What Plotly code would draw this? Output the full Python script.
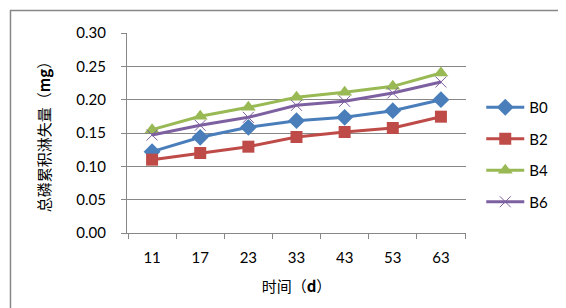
import plotly.graph_objects as go

days = ["11", "17", "23", "33", "43", "53", "63"]
b0 = [0.122, 0.1435, 0.1585, 0.1685, 0.1735, 0.1835, 0.200]
b2 = [0.110, 0.120, 0.1295, 0.144, 0.1515, 0.1575, 0.1745]
b4 = [0.155, 0.175, 0.1885, 0.2035, 0.211, 0.220, 0.240]
b6 = [0.147, 0.1615, 0.1735, 0.1915, 0.1975, 0.210, 0.2265]
y_ticks = [0.0, 0.05, 0.10, 0.15, 0.20, 0.25, 0.30]

series = [
    ("B0", b0, "#4A7EBB", "diamond", 13),
    ("B2", b2, "#BE4B48", "square", 12),
    ("B4", b4, "#98B954", "triangle-up", 13),
    ("B6", b6, "#7D60A0", "x-thin", 11),
]

fig = go.Figure()
for name, vals, color, sym, size in series:
    marker = dict(symbol=sym, size=size, color=color)
    if sym == "x-thin":
        marker["line"] = dict(color=color, width=1)
    fig.add_trace(go.Scatter(
        x=days, y=vals, name=name, mode="lines+markers",
        line=dict(color=color, width=3), marker=marker,
        legendgroup=name,
    ))

font_num = "Lato, 'Open Sans', sans-serif"
cjk = "'Noto Sans CJK SC', sans-serif"
fig.update_layout(
    width=566, height=308,
    margin=dict(l=119, r=108, t=25, b=83),
    paper_bgcolor="white", plot_bgcolor="white",
    font=dict(family=font_num, size=15, color="black"),
    showlegend=True,
    legend=dict(x=1.045, y=0.71, xanchor="left", yanchor="top",
                tracegroupgap=9, font=dict(size=15), itemwidth=38,
                bgcolor="rgba(0,0,0,0)"),
    xaxis=dict(
        type="category", showgrid=False, showline=True, linecolor="#878787",
        ticks="outside", tickson="boundaries", ticklen=5, tickcolor="#878787",
        ticklabelstandoff=11,
        title=dict(text="时间（<b>d</b>）", standoff=16,
                   font=dict(family=cjk, size=15)),
    ),
    yaxis=dict(
        range=[0, 0.30], tickvals=y_ticks, tickformat=".2f",
        showgrid=True, gridcolor="#878787", gridwidth=1,
        showline=True, linecolor="#878787", zeroline=False,
        ticks="outside", ticklen=5, tickcolor="#878787",
        ticklabelstandoff=12,
        title=dict(text="总磷累积淋失量（<b>mg</b>）", standoff=22,
                   font=dict(family=cjk, size=15)),
    ),
    shapes=[dict(type="rect", xref="paper", yref="paper",
                 x0=-0.3437, x1=1.311, y0=-0.4025, y1=1.1125,
                 line=dict(color="#878787", width=1.5), layer="below")],
)

fig.write_html("out.html")
